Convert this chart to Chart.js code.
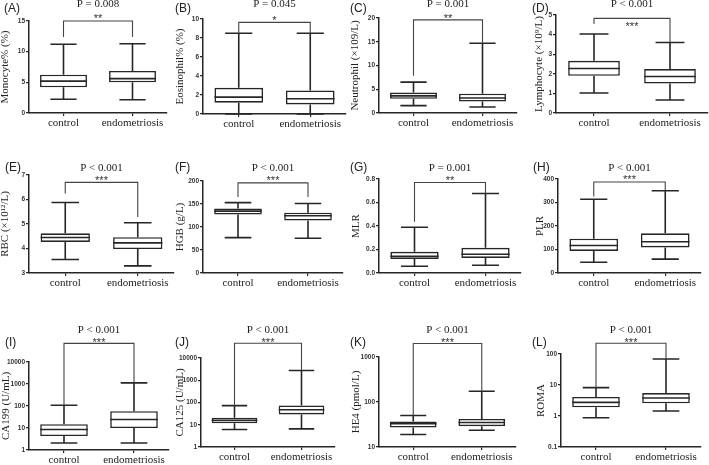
<!DOCTYPE html>
<html><head><meta charset="utf-8">
<script src="https://cdn.jsdelivr.net/npm/chart.js@4.4.0/dist/chart.umd.min.js"></script>
<style>
html,body{margin:0;padding:0;background:#fff;}
#wrap{position:relative;width:709px;height:465px;overflow:hidden;background:#fff;}
canvas{position:absolute;}
</style></head><body><div id="wrap"></div>
<script>
// ---------------- DATA ----------------
const categories = ["control", "endometriosis"];
const panelLetters = ["(A)","(B)","(C)","(D)","(E)","(F)","(G)","(H)","(I)","(J)","(K)","(L)"];
const pValues = ["P = 0.008","P = 0.045","P = 0.001","P < 0.001","P < 0.001","P < 0.001",
                 "P = 0.001","P < 0.001","P < 0.001","P < 0.001","P < 0.001","P < 0.001"];
const stars = ["**","*","**","***","***","***","**","***","***","***","***","***"];
const yTitles = ["Monocyte% (%)","Eosinophil% (%)","Neutrophil (×109/L)","Lymphocyte (×10⁹/L)",
                 "RBC (×10¹²/L)","HGB (g/L)","MLR","PLR",
                 "CA199 (U/mL)","CA125 (U/mL)","HE4 (pmol/L)","ROMA"];
const yScaleTypes = ["linear","linear","linear","linear","linear","linear","linear","linear",
                     "logarithmic","logarithmic","logarithmic","logarithmic"];
const yTickLabels = [
  ["0","5","10","15"], ["0","2","4","6","8","10"], ["0","5","10","15","20"], ["0","1","2","3","4","5"],
  ["3","4","5","6","7"], ["0","50","100","150","200"], ["0.0","0.2","0.4","0.6","0.8"], ["0","100","200","300","400"],
  ["1","10","100","1000","10000"], ["1","10","100","1000","10000"], ["10","100","1000"], ["0.1","1","10","100"]
];
// box statistics: [min, Q1, median, Q3, max]
const monocyteControl = [2.25, 4.2, 5.2, 6.25, 11.2];
const monocyteEndo    = [2.15, 5.0, 5.6, 6.85, 11.3];
const eosinophilControl = [0, 1.19, 1.78, 2.76, 8.5];
const eosinophilEndo    = [0, 1.01, 1.6, 2.48, 8.5];
const neutrophilControl = [1.55, 3.0, 3.6, 4.3, 6.5];
const neutrophilEndo    = [1.26, 2.4, 3.15, 4.07, 14.7];
const lymphocyteControl = [1.02, 1.9, 2.27, 2.66, 4.03];
const lymphocyteEndo    = [0.66, 1.5, 1.86, 2.24, 3.6];
const rbcControl = [3.55, 4.27, 4.45, 4.62, 5.88];
const rbcEndo    = [3.29, 3.98, 4.23, 4.46, 5.05];
const hgbControl = [77, 127, 134.5, 140, 153];
const hgbEndo    = [75.5, 114, 124.5, 131, 151];
const mlrControl = [0.057, 0.12, 0.143, 0.18, 0.39];
const mlrEndo    = [0.066, 0.128, 0.16, 0.214, 0.677];
const plrControl = [46, 94, 117, 146, 314];
const plrEndo    = [59, 109, 133, 169, 350];
const ca199Control = [2.07, 4.3, 8.6, 15, 109];
const ca199Endo    = [2.07, 10, 24.5, 58, 1120];
const ca125Control = [6.1, 11.8, 16, 20.6, 72];
const ca125Endo    = [6.5, 29, 47, 74, 2760];
const he4Control = [19, 27, 33, 37, 50];
const he4Endo    = [23.5, 29, 35, 42, 173];
const romaControl = [0.88, 1.9, 2.76, 4.1, 8.2];
const romaEndo    = [1.45, 2.57, 3.8, 5.5, 69];
const controlStats = [monocyteControl, eosinophilControl, neutrophilControl, lymphocyteControl,
                      rbcControl, hgbControl, mlrControl, plrControl,
                      ca199Control, ca125Control, he4Control, romaControl];
const endoStats = [monocyteEndo, eosinophilEndo, neutrophilEndo, lymphocyteEndo,
                   rbcEndo, hgbEndo, mlrEndo, plrEndo,
                   ca199Endo, ca125Endo, he4Endo, romaEndo];
// significance brackets (in data units)
const bracketTop      = [15, 9.65, 19.6, 4.83, 6.7, 196, 0.77, 387, 70000, 46000, 2000, 221];
const bracketLeftEnd  = [12.4, 8.5, 7.86, 4.54, 6.25, 165, 0.437, 326, 109, 72, 50, 8.2];
const bracketRightEnd = [12.4, 8.5, 14.7, 3.6, 5.29, 165, 0.677, 350, 1120, 2760, 173, 69];

// ---------------- LAYOUT ----------------
const colX = [0, 175, 350, 527], colW = [175, 175, 177, 182];
const rowY = [0, 150, 310], rowH = [150, 160, 155];
const axisLeft   = [29, 203, 379, 556, 29, 203, 379, 558, 29, 201, 379, 561];
const plotTop    = [21, 19, 18, 15, 175, 181, 179, 179, 362, 358, 357, 354];
const plotBottom = [113, 114, 113, 113, 273, 273, 273, 273, 450, 447, 447, 447];
const plotRight  = [167, 346, 517, 708, 174, 343, 521, 701, 169, 335, 516, 701];
const yTitleX    = [5, 5.5, 5, 12.5, 5, 5.5, 6.5, 13, 6, 4, 6.5, 14];
const letterX    = [4, 175, 350, 532, 5, 175, 350, 533, 5, 175, 350, 532];
const rowLetterBase = [11.5, 170.5, 345.5];
const rowPBase = [7, 170.5, 333];
const starCenter = [16, 17.5, 15.5, 24, 177.5, 177.5, 177.5, 177, 339.5, 339.5, 339.5, 340];
const INK = '#262626';

const boxPlugin = {
  id: 'boxplot',
  beforeDatasetsDraw(chart, args, opts) {
    const i = opts.panel, xs = chart.scales.x, ys = chart.scales.y, ctx = chart.ctx;
    const catW = xs.getPixelForValue(1) - xs.getPixelForValue(0);
    const capHalf = catW * 0.38 / 2;
    ctx.save();
    ctx.strokeStyle = INK; ctx.lineWidth = 1.6;
    [controlStats[i], endoStats[i]].forEach((s, k) => {
      const x = xs.getPixelForValue(k);
      const yMin = ys.getPixelForValue(s[0]), yQ1 = ys.getPixelForValue(s[1]);
      const yQ3 = ys.getPixelForValue(s[3]), yMax = ys.getPixelForValue(s[4]);
      ctx.beginPath();
      ctx.moveTo(x, yMax); ctx.lineTo(x, yQ3);
      ctx.moveTo(x, yQ1); ctx.lineTo(x, yMin);
      ctx.moveTo(x - capHalf, yMax); ctx.lineTo(x + capHalf, yMax);
      ctx.moveTo(x - capHalf, yMin); ctx.lineTo(x + capHalf, yMin);
      ctx.stroke();
    });
    ctx.restore();
  },
  afterDatasetsDraw(chart, args, opts) {
    const i = opts.panel, ys = chart.scales.y, ctx = chart.ctx;
    const meta = chart.getDatasetMeta(0);
    ctx.save();
    ctx.strokeStyle = INK; ctx.lineWidth = 1.6;
    [controlStats[i], endoStats[i]].forEach((s, k) => {
      const bar = meta.data[k];
      const y = ys.getPixelForValue(s[2]);
      ctx.beginPath();
      ctx.moveTo(bar.x - bar.width / 2, y); ctx.lineTo(bar.x + bar.width / 2, y);
      ctx.stroke();
    });
    ctx.restore();
  },
  afterDraw(chart, args, opts) {
    const i = opts.panel, xs = chart.scales.x, ys = chart.scales.y, ctx = chart.ctx;
    const ox = opts.ox, oy = opts.oy, r = Math.floor(i / 4);
    const x0 = xs.getPixelForValue(0), x1 = xs.getPixelForValue(1), xm = (x0 + x1) / 2;
    const yb = ys.getPixelForValue(bracketTop[i]);
    ctx.save();
    ctx.strokeStyle = '#444'; ctx.lineWidth = 1.1;
    ctx.beginPath();
    ctx.moveTo(x0, ys.getPixelForValue(bracketLeftEnd[i]));
    ctx.lineTo(x0, yb); ctx.lineTo(x1, yb);
    ctx.lineTo(x1, ys.getPixelForValue(bracketRightEnd[i]));
    ctx.stroke();
    ctx.fillStyle = '#333';
    ctx.textAlign = 'center'; ctx.textBaseline = 'alphabetic';
    ctx.font = '11px "Liberation Sans"';
    ctx.fillText(stars[i], xm, starCenter[i] - oy + 0.58 * 11);
    ctx.fillStyle = '#222';
    ctx.font = '11px "Liberation Serif"';
    ctx.fillText(pValues[i], xm, rowPBase[r] - oy);
    ctx.textAlign = 'left';
    ctx.font = '12px "Liberation Sans"';
    ctx.fillText(panelLetters[i], letterX[i] - ox, rowLetterBase[r] - oy);
    ctx.restore();
  }
};

const wrap = document.getElementById('wrap');
for (let i = 0; i < 12; i++) {
  const r = Math.floor(i / 4), c = i % 4;
  const cx = colX[c], cy = rowY[r], cw = colW[c], ch = rowH[r];
  const cv = document.createElement('canvas');
  cv.width = cw; cv.height = ch;
  cv.style.left = cx + 'px'; cv.style.top = cy + 'px';
  cv.style.width = cw + 'px'; cv.style.height = ch + 'px';
  wrap.appendChild(cv);
  const padLeft = Math.max(0, yTitleX[i] - 5.5);
  const yWidth = axisLeft[i] - cx - padLeft;
  const padTop = plotTop[i] - cy;
  const padRight = cx + cw - plotRight[i];
  const xHeight = cy + ch - plotBottom[i];
  const tickVals = yTickLabels[i].map(parseFloat);
  new Chart(cv, {
    type: 'bar',
    data: {
      labels: categories,
      datasets: [{
        data: [[controlStats[i][1], controlStats[i][3]], [endoStats[i][1], endoStats[i][3]]],
        backgroundColor: '#ffffff', borderColor: INK, borderWidth: 1.6, borderSkipped: false,
        barPercentage: 0.68, categoryPercentage: 1.0
      }]
    },
    options: {
      responsive: false, animation: false, devicePixelRatio: 1,
      layout: { padding: { top: padTop, left: padLeft, right: padRight, bottom: 0 } },
      plugins: { legend: { display: false }, tooltip: { enabled: false },
                 boxplot: { panel: i, ox: cx, oy: cy } },
      scales: {
        x: {
          type: 'category', offset: true,
          afterFit: s => { s.height = xHeight; },
          grid: { display: true, drawOnChartArea: false, drawTicks: true, tickLength: 3, offset: false, color: INK, lineWidth: 1.2 },
          border: { display: true, color: INK, width: 1.5 },
          ticks: { font: { family: 'Liberation Serif', size: 11 }, color: '#222', padding: 1, maxRotation: 0, autoSkip: false }
        },
        y: {
          type: yScaleTypes[i],
          min: tickVals[0], max: tickVals[tickVals.length - 1],
          afterBuildTicks: s => { s.ticks = tickVals.map(v => ({ value: v, major: true })); },
          afterFit: s => { s.width = yWidth; },
          ticks: { callback: (v, idx) => yTickLabels[i][idx], font: { family: 'Liberation Sans', size: 6.5, weight: 'bold' },
                   color: '#333', padding: 1, autoSkip: false, maxRotation: 0 },
          grid: { display: true, drawOnChartArea: false, drawTicks: true, tickLength: 3, color: INK, lineWidth: 1.2 },
          border: { display: true, color: INK, width: 1.5 },
          title: { display: true, text: yTitles[i], font: { family: 'Liberation Serif', size: 11, lineHeight: 1 }, color: '#222', padding: 0 }
        }
      }
    },
    plugins: [boxPlugin]
  });
}
</script>
</body></html>
